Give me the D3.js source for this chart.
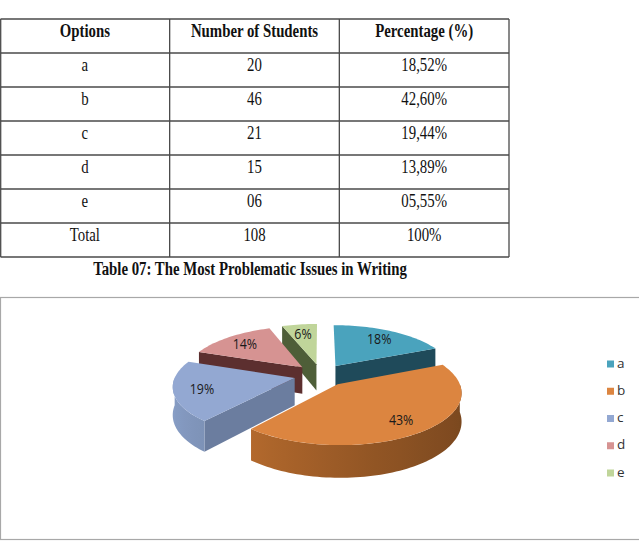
<!DOCTYPE html>
<html>
<head>
<meta charset="utf-8">
<script src="https://cdn.jsdelivr.net/npm/d3@7"></script>
<style>
  body { margin: 0; background: #fff; }
  svg { display: block; }
</style>
</head>
<body>
<div id="chart"></div>
<script>
// Table 07 + exploded 3D pie - most problematic issues in writing

const headers = ["Options", "Number of Students", "Percentage (%)"];
const options = ["a", "b", "c", "d", "e", "Total"];
const students = ["20", "46", "21", "15", "06", "108"];
const percentages = ["18,52%", "42,60%", "19,44%", "13,89%", "05,55%", "100%"];

const sliceNames = ["a", "b", "c", "d", "e"];
const sliceValues = [20, 46, 21, 15, 6];
const sliceLabels = ["18%", "43%", "19%", "14%", "6%"];

const width = 639;
const height = 555;

const topColor = { a: "#4aa3bd", b: "#dc8540", c: "#93a8d2", d: "#d69392", e: "#c0d59a" };
const faceColor = { a: "#1f4a5a", b: "#8a4f22", c: "#6b7d9f", d: "#5c2f2f", e: "#4e5e38" };
const wallColor = { a: "#2f7185", b: "#b86c2e", c: "#8196bc", d: "#8a5050", e: "#7d8f5c" };

const serif = "'Liberation Serif', 'Times New Roman', serif";

const svg = d3.select("#chart")
    .append("svg")
    .attr("width", width)
    .attr("height", height);

const defs = svg.append("defs");

// ---- table ----
const colX = d3.scaleBand().domain(d3.range(3)).range([0, 509]);
const rowY = d3.scaleBand().domain(d3.range(7)).range([19, 257]);

const table = svg.append("g");
const rows = [headers].concat(options.map((o, i) => [o, students[i], percentages[i]]));

table.selectAll("line.h")
    .data(d3.range(8))
    .join("line")
    .attr("class", "h")
    .attr("x1", 0.5).attr("x2", 509)
    .attr("y1", i => i < 7 ? rowY(i) : rowY(6) + rowY.bandwidth())
    .attr("y2", i => i < 7 ? rowY(i) : rowY(6) + rowY.bandwidth())
    .attr("stroke", "#4a4a4a").attr("stroke-width", 1.3);

table.selectAll("line.v")
    .data(d3.range(4))
    .join("line")
    .attr("class", "v")
    .attr("x1", i => i < 3 ? Math.max(colX(i), 0.7) : 509)
    .attr("x2", i => i < 3 ? Math.max(colX(i), 0.7) : 509)
    .attr("y1", 19).attr("y2", 257)
    .attr("stroke", "#4a4a4a").attr("stroke-width", 1.3);

// text in the source is narrow and tall, so squeeze it horizontally
rows.forEach((r, ri) => {
    table.selectAll(null)
        .data(r)
        .join("text")
        .attr("transform", (d, ci) =>
            `translate(${colX(ci) + colX.bandwidth() / 2},${rowY(ri) + 18}) scale(0.8,1)`)
        .attr("text-anchor", "middle")
        .style("font-family", serif)
        .style("font-size", "18.5px")
        .style("font-weight", ri === 0 ? "bold" : "normal")
        .attr("fill", "#111")
        .text(d => d);
});

svg.append("text")
    .attr("transform", "translate(250,275) scale(0.8,1)")
    .attr("text-anchor", "middle")
    .style("font-family", serif)
    .style("font-size", "18.5px")
    .style("font-weight", "bold")
    .attr("fill", "#111")
    .text("Table 07: The Most Problematic Issues in Writing");

// ---- chart box ----
svg.append("rect")
    .attr("x", 0.5).attr("y", 297.5)
    .attr("width", 660).attr("height", 242)
    .attr("fill", "#fff")
    .attr("stroke", "#a8a8a8")
    .attr("stroke-width", 1.2);

// ---- 3D pie ----
const cx = 321, cy = 375;
const R = 119;
const sinA = 0.413, cosA = 0.911;
const persp = 6.29;
const thick = 0.25;
const explode = 0.227;

function project(x, z, h) {
    const s = persp / (persp + z * cosA);
    return [cx + R * x * s, cy + R * (-z * sinA + h * thick * cosA) * s];
}

const pie = d3.pie().sort(null).value(d => d)
    .startAngle(0).endAngle(2 * Math.PI);
const arcs = pie(sliceValues).map((p, i) => {
    const mid = (p.startAngle + p.endAngle) / 2;
    return {
        name: sliceNames[i],
        label: sliceLabels[i],
        a0: p.startAngle,
        a1: p.endAngle,
        mid: mid,
        ox: explode * Math.sin(mid),
        oz: explode * Math.cos(mid)
    };
});

const line = d3.line();

function rim(d, t, h) {
    return project(d.ox + Math.sin(t), d.oz + Math.cos(t), h);
}

function arcPoints(d, t0, t1, h) {
    const n = Math.max(2, Math.ceil((t1 - t0) / 0.03));
    return d3.range(n + 1).map(k => rim(d, t0 + (t1 - t0) * k / n, h));
}

const pieG = svg.append("g");
// back slices first
const order = arcs.slice().sort((p, q) => Math.cos(q.mid) - Math.cos(p.mid));

order.forEach(d => {
    const g = pieG.append("g");
    const apexTop = project(d.ox, d.oz, 0);
    const apexBot = project(d.ox, d.oz, 1);

    // radial cut faces facing the viewer
    [[d.a0, Math.sin(d.a0) < -1e-6], [d.a1, Math.sin(d.a1) > 1e-6]].forEach(([t, vis]) => {
        if (!vis) return;
        g.append("path")
            .attr("d", line([apexTop, rim(d, t, 0), rim(d, t, 1), apexBot]) + "Z")
            .attr("fill", faceColor[d.name]);
    });

    // outer wall, front half only, horizontal gradient for the lighting
    const w0 = Math.max(d.a0, Math.PI / 2);
    const w1 = Math.min(d.a1, 3 * Math.PI / 2);
    if (w1 > w0) {
        const top = arcPoints(d, w0, w1, 0);
        const bot = arcPoints(d, w0, w1, 1).reverse();
        const xs = top.map(p => p[0]);
        const x0 = d3.min(xs), x1 = d3.max(xs);
        const base = d3.color(wallColor[d.name]);
        const stops = d3.range(13).map(k => {
            const t = w0 + (w1 - w0) * k / 12;
            const shade = (1 + Math.sin(t)) / 2; // 0 left .. 1 right
            return {
                offset: (rim(d, t, 0)[0] - x0) / (x1 - x0 || 1),
                color: base.darker(shade * 1.3 - 0.15).formatHex()
            };
        }).sort((p, q) => p.offset - q.offset);

        defs.append("linearGradient")
            .attr("id", "wall-" + d.name)
            .attr("gradientUnits", "userSpaceOnUse")
            .attr("x1", x0).attr("x2", x1)
            .attr("y1", 0).attr("y2", 0)
            .selectAll("stop")
            .data(stops)
            .join("stop")
            .attr("offset", s => s.offset)
            .attr("stop-color", s => s.color);

        g.append("path")
            .attr("d", line(top.concat(bot)) + "Z")
            .attr("fill", `url(#wall-${d.name})`);
    }

    // top face
    g.append("path")
        .attr("d", line([apexTop].concat(arcPoints(d, d.a0, d.a1, 0))) + "Z")
        .attr("fill", topColor[d.name]);

    const lp = project(d.ox + 0.77 * Math.sin(d.mid), d.oz + 0.77 * Math.cos(d.mid), 0);
    g.append("text")
        .attr("transform", `translate(${lp[0]},${lp[1] + 2}) scale(0.92,1.05)`)
        .attr("text-anchor", "middle")
        .attr("dominant-baseline", "middle")
        .style("font-family", "'Open Sans', sans-serif")
        .style("font-size", "13.5px")
        .attr("fill", "#1a1a1a")
        .text(d.label);
});

// ---- legend ----
const legY = d3.scalePoint().domain(sliceNames).range([364, 473]);
const legend = svg.append("g");

legend.selectAll("rect")
    .data(sliceNames)
    .join("rect")
    .attr("x", 607)
    .attr("y", d => legY(d) - 3.5)
    .attr("width", 7).attr("height", 7)
    .attr("fill", d => topColor[d]);

legend.selectAll("text")
    .data(sliceNames)
    .join("text")
    .attr("x", 617)
    .attr("y", d => legY(d))
    .attr("dominant-baseline", "middle")
    .style("font-family", "'Open Sans', sans-serif")
    .style("font-size", "13.5px")
    .attr("fill", "#333")
    .text(d => d);
</script>
</body>
</html>
